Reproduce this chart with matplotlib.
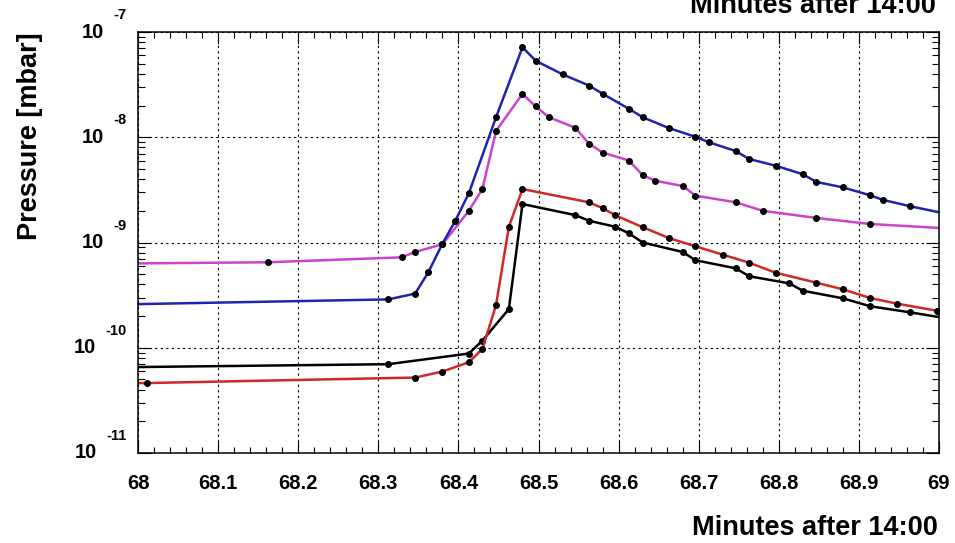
import numpy as np
import matplotlib
matplotlib.use('Agg')
import matplotlib.pyplot as plt
from matplotlib.ticker import MultipleLocator, LogLocator, NullFormatter, FuncFormatter

plt.rcParams['font.family'] = ['Liberation Sans', 'DejaVu Sans']
plt.rcParams['font.weight'] = 'bold'

# gauge readings, minutes after 14:00 and pressure in mbar
blue_t = [67.98, 68.3125, 68.346, 68.3625, 68.38, 68.396, 68.413, 68.447, 68.48, 68.4965,
          68.53, 68.563, 68.58, 68.613, 68.63, 68.663, 68.696, 68.713, 68.746, 68.763,
          68.796, 68.83, 68.847, 68.88, 68.914, 68.93, 68.964, 69.01]
blue_p = [2.58e-10, 2.88e-10, 3.27e-10, 5.22e-10, 9.73e-10, 1.60e-9, 2.93e-9, 1.55e-8, 7.16e-8, 5.33e-8,
          3.96e-8, 3.10e-8, 2.59e-8, 1.86e-8, 1.55e-8, 1.22e-8, 1.01e-8, 8.95e-9, 7.40e-9, 6.21e-9,
          5.37e-9, 4.45e-9, 3.76e-9, 3.34e-9, 2.81e-9, 2.54e-9, 2.21e-9, 1.87e-9]

magenta_t = [67.98, 68.1627, 68.329, 68.346, 68.38, 68.413, 68.43, 68.447, 68.48, 68.4965,
             68.513, 68.546, 68.563, 68.58, 68.613, 68.63, 68.646, 68.68, 68.696, 68.746,
             68.78, 68.847, 68.914, 69.01]
magenta_p = [6.31e-10, 6.49e-10, 7.23e-10, 8.13e-10, 9.62e-10, 2.00e-9, 3.22e-9, 1.15e-8, 2.58e-8, 1.96e-8,
             1.55e-8, 1.23e-8, 8.69e-9, 7.16e-9, 6.01e-9, 4.36e-9, 3.86e-9, 3.44e-9, 2.79e-9, 2.41e-9,
             2.00e-9, 1.71e-9, 1.50e-9, 1.36e-9]

red_t = [67.98, 68.0117, 68.346, 68.38, 68.413, 68.43, 68.447, 68.463, 68.48, 68.563,
         68.58, 68.596, 68.63, 68.663, 68.696, 68.73, 68.763, 68.796, 68.847, 68.88,
         68.914, 68.947, 68.997]
red_p = [4.60e-11, 4.62e-11, 5.21e-11, 5.94e-11, 7.28e-11, 9.73e-11, 2.55e-10, 1.41e-9, 3.22e-9, 2.41e-9,
         2.12e-9, 1.81e-9, 1.40e-9, 1.10e-9, 9.20e-10, 7.66e-10, 6.43e-10, 5.16e-10, 4.15e-10, 3.59e-10,
         2.97e-10, 2.63e-10, 2.25e-10]

black_t = [67.98, 68.3125, 68.413, 68.43, 68.463, 68.48, 68.546, 68.563, 68.596, 68.613,
           68.63, 68.68, 68.696, 68.746, 68.763, 68.813, 68.83, 68.88, 68.914, 68.964, 69.01]
black_p = [6.53e-11, 6.98e-11, 8.81e-11, 1.17e-10, 2.33e-10, 2.32e-9, 1.82e-9, 1.61e-9, 1.41e-9, 1.22e-9,
           1.00e-9, 8.13e-10, 6.78e-10, 5.69e-10, 4.78e-10, 4.09e-10, 3.48e-10, 2.95e-10, 2.48e-10, 2.17e-10, 1.90e-10]

decades = [-11, -10, -9, -8, -7]
x_label = 'Minutes after 14:00'
y_label = 'Pressure [mbar]'

fig = plt.figure(figsize=(9.55, 5.43), dpi=100)
ax = fig.add_axes([138 / 955, 1 - 453 / 543, 801 / 955, 421 / 543])

series = [(black_t, black_p, 'black'),
          (red_t, red_p, '#d02828'),
          (magenta_t, magenta_p, '#cc44cc'),
          (blue_t, blue_p, '#2222b0')]
for t, p, c in series:
    ax.plot(t, p, color=c, lw=1.8, marker='o', ms=4, mfc='black', mec='black')

ax.set_yscale('log')
ax.set_xlim(68, 69)
ax.set_ylim(1e-11, 1e-7)

# ticks inside on all four sides, ROOT style
ax.xaxis.set_major_locator(MultipleLocator(0.1))
ax.xaxis.set_minor_locator(MultipleLocator(0.02))
ax.xaxis.set_major_formatter(FuncFormatter(lambda v, pos: f'{round(v, 1):g}'))
ax.yaxis.set_minor_locator(LogLocator(base=10, subs=range(2, 10), numticks=20))
ax.yaxis.set_minor_formatter(NullFormatter())
ax.tick_params(which='both', direction='in', top=True, right=True, width=0.8)
ax.tick_params(axis='x', which='major', length=8.6, pad=15, labelsize=14.5)
ax.tick_params(axis='x', which='minor', length=4)
ax.tick_params(axis='y', which='major', length=9.5, labelleft=False)
ax.tick_params(axis='y', which='minor', length=5)
for s in ax.spines.values():
    s.set_linewidth(1.1)

ax.grid(True, which='major', color='black', ls=(0, (2, 3)), lw=0.8)

# y labels as 10 with a raised exponent
renderer = fig.canvas.get_renderer()
ytr = ax.get_yaxis_transform()
for d in decades:
    e = ax.annotate(str(d), xy=(0, 10.0 ** d), xycoords=ytr, xytext=(-11, 17),
                    textcoords='offset pixels', ha='right', va='center', fontsize=10.5)
    w = e.get_window_extent(renderer).width
    ax.annotate('10', xy=(0, 10.0 ** d), xycoords=ytr, xytext=(-11 - w - 10, 0),
                textcoords='offset pixels', ha='right', va='center', fontsize=14.5)

fig.text(30 / 955, 1 - 32 / 543, y_label, rotation=90, ha='center', va='top', fontsize=19.5)
fig.text(938 / 955, 1 - 535 / 543, x_label, ha='right', va='baseline', fontsize=19.5)
fig.text(936 / 955, 1 - 13 / 543, x_label, ha='right', va='baseline', fontsize=19.5)

fig.savefig('out.png', dpi=100)
